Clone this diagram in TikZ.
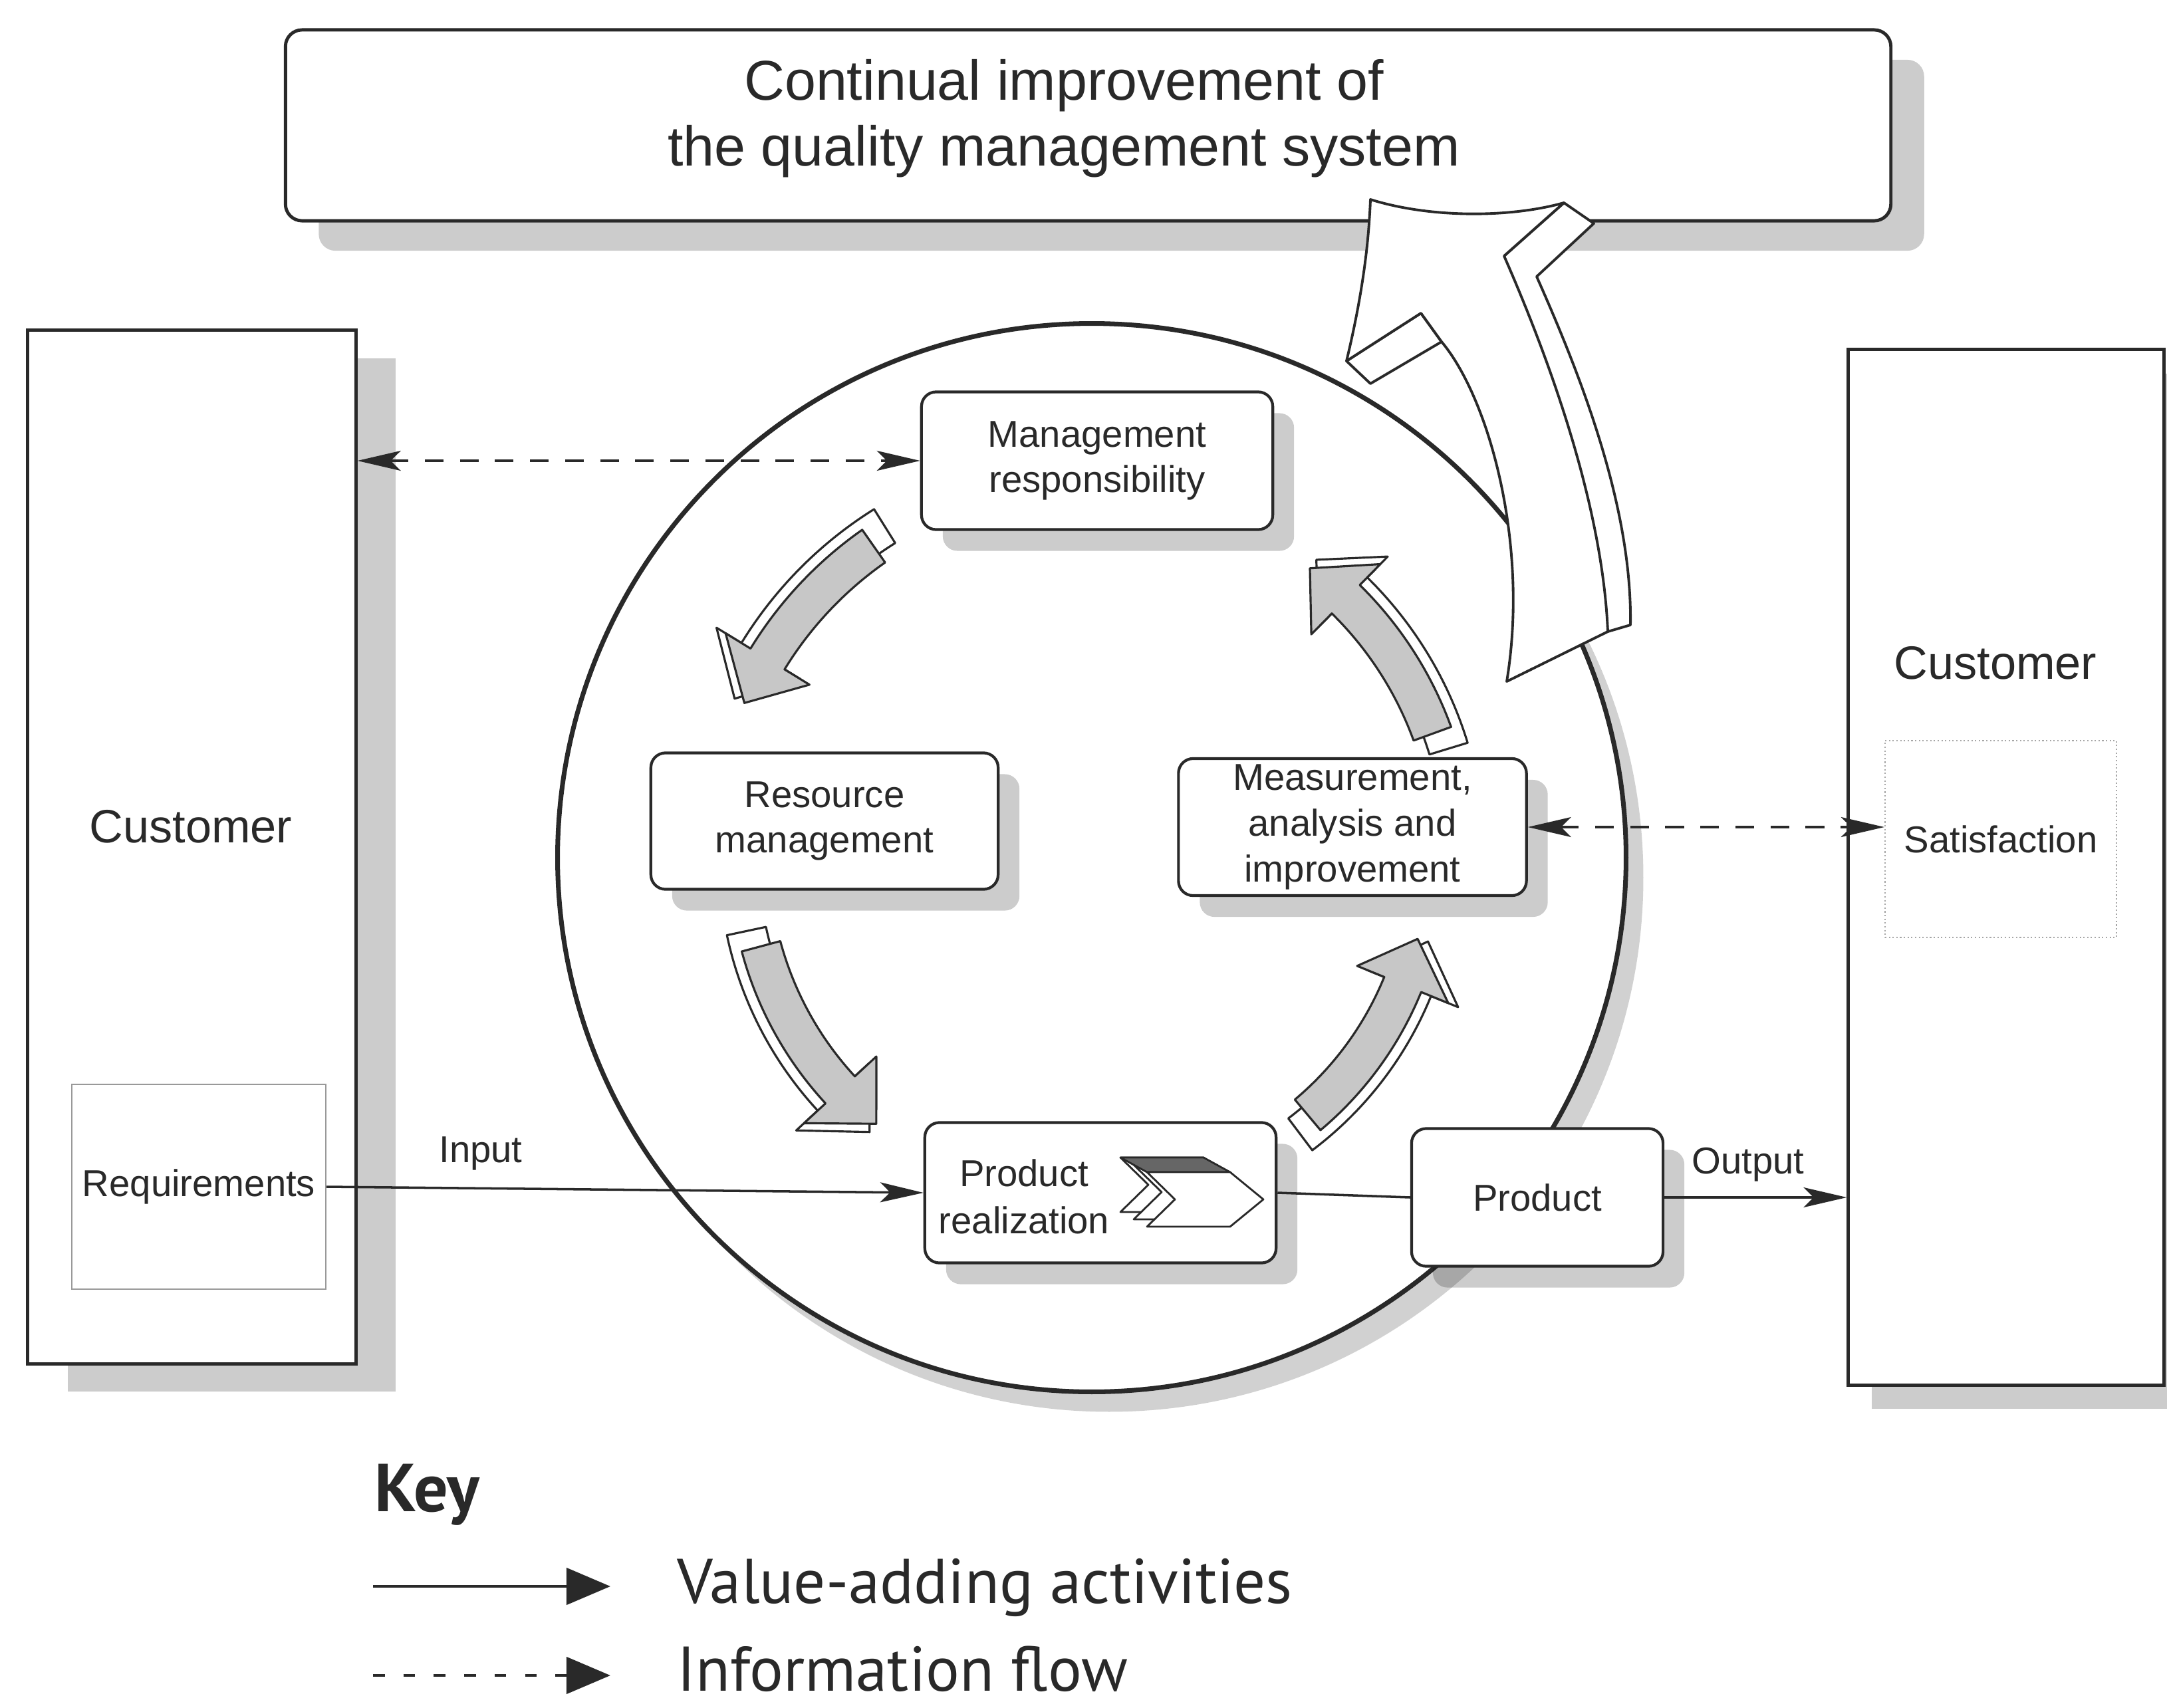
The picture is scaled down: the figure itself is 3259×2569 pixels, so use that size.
\documentclass[tikz,border=0pt]{standalone}
\usepackage{fontspec}
\setmainfont{Liberation Sans}
\newfontfamily\keyfont{PT Sans}
\usetikzlibrary{arrows.meta,shadows}

\definecolor{ink}{gray}{0.16}
\definecolor{facegray}{gray}{0.78}

% curved block arrow around the current origin:
% #1 radius, #2 half band width, #3 half head width,
% #4 tail angle, #5 head base angle, #6 tip angle, #7 style
\newcommand{\ringarrow}[7]{%
  \path[#7] ({#4}:{#1+#2}) arc[start angle={#4}, end angle={#5}, radius={#1+#2}]
    -- ({#5}:{#1+#3}) -- ({#6}:{#1}) -- ({#5}:{#1-#3}) -- ({#5}:{#1-#2})
    arc[start angle={#5}, end angle={#4}, radius={#1-#2}] -- cycle;}
% the same arrow with its raised side: the side first, then the face
\newcommand{\cyclearrow}[4]{%
  \ringarrow{#1+16}{30}{74}{#2+3}{#3}{#4}{sideface}
  \ringarrow{#1}{30}{74}{#2}{#3}{#4}{topface}}
% one chevron of the realization icon
\newcommand{\chevronpath}{(1725,1763) -- (1850,1763) -- (1900,1804) -- (1850,1845) -- (1725,1845) -- (1767,1804) -- cycle}

\tikzset{
  boxshadow/.style={drop shadow={shadow xshift=3.2mm, shadow yshift=-3.2mm, fill=black, opacity=0.2}},
  pbox/.style={draw=ink, line width=1.2pt, fill=white, rounded corners=2.2mm, align=center,
    inner sep=0pt, text=ink, font=\fontsize{16}{19.5}\selectfont, boxshadow},
  custbox/.style={draw=ink, line width=1.4pt, fill=white, inner sep=0pt},
  subbox/.style={draw=black!40, line width=0.6pt, fill=white, inner sep=0pt, text=ink,
    font=\fontsize{16}{19}\selectfont},
  plain/.style={inner sep=0pt, text=ink},
  flow/.style={draw=ink, line width=1.0pt},
  info/.style={draw=ink, line width=1.0pt, dash pattern=on 8pt off 7pt},
  tipshape/.tip={Stealth[length=6.5mm, width=3mm, inset=1.5mm]},
  sideface/.style={draw=ink, line width=0.9pt, fill=white, line join=round},
  topface/.style={draw=ink, line width=0.9pt, fill=facegray, line join=round},
  bigface/.style={draw=ink, line width=1.1pt, fill=white, line join=round},
  chevron/.style={draw=ink, line width=0.8pt, line join=round, fill=white},
  keytext/.style={inner sep=0pt, anchor=west, text=ink, font=\keyfont\fontsize{27}{30}\selectfont},
}

\begin{document}
\begin{tikzpicture}[x=0.01cm, y=-0.01cm]
\useasboundingbox (0,0) rectangle (3259,2569);

% customers on both sides
\node[custbox, minimum width=4.93cm, minimum height=15.54cm,
  drop shadow={shadow xshift=6mm, shadow yshift=-4.2mm, fill=black, opacity=0.2}] (custL) at (288.5,1274) {};
\node[custbox, minimum width=4.74cm, minimum height=15.57cm,
  drop shadow={shadow xshift=3.5mm, shadow yshift=-3.6mm, fill=black, opacity=0.2}] (custR) at (3017,1304.5) {};
\node[plain, font=\fontsize{20}{24}\selectfont] (custLtext) at (287,1243) {Customer};
\node[plain, font=\fontsize{20}{24}\selectfont] (custRtext) at (3001,997) {Customer};
\node[subbox, minimum width=3.82cm, minimum height=3.08cm] (req) at (299,1785) {Requirements};
\node[subbox, draw=black!35, densely dotted, minimum width=3.48cm, minimum height=2.96cm] (sat) at (3009,1262) {Satisfaction};

% the process circle
\node[circle, draw=ink, line width=2pt, fill=white, minimum size=16.06cm, inner sep=0pt,
  drop shadow={shadow xshift=2.6mm, shadow yshift=-3mm, fill=black, opacity=0.18}] (ring) at (1642,1290) {};

% top box
\node[draw=ink, line width=1.4pt, fill=white, rounded corners=2.5mm,
  minimum width=24.13cm, minimum height=2.87cm, inner sep=0pt,
  drop shadow={shadow xshift=5mm, shadow yshift=-4.5mm, fill=black, opacity=0.2}] (top) at (1636.5,188.5) {};
\node[plain, align=center, font=\fontsize{24}{28}\selectfont] (toptext) at (1600,178)
  {Continual improvement of\\the quality management system};

% process boxes
\node[pbox, minimum width=5.28cm, minimum height=2.07cm] (mgmt) at (1650,693) {Management\\responsibility};
\node[pbox, minimum width=5.22cm, minimum height=2.05cm] (res) at (1240,1235) {Resource\\management};
\node[pbox, minimum width=5.23cm, minimum height=2.06cm] (meas) at (2034,1244) {Measurement,\\analysis and\\improvement};
\node[pbox, minimum width=5.28cm, minimum height=2.11cm] (pr) at (1655,1794) {};
\node[plain, align=center, font=\fontsize{16}{20}\selectfont] (prtext) at (1540,1800) {Product\\realization};
\node[pbox, minimum width=3.78cm, minimum height=2.07cm] (prod) at (2312,1801) {Product};

% stacked chevrons inside the realization box, with their dark upper face
\begin{scope}[shift={(-40,-22)}]
  \path[chevron] \chevronpath;
\end{scope}
\begin{scope}[shift={(-20,-11)}]
  \path[chevron] \chevronpath;
\end{scope}
\path[draw=ink, line width=0.8pt, fill=black!60, line join=round]
  (1685,1741) -- (1810,1741) -- (1850,1763) -- (1725,1763) -- cycle;
\path[chevron] \chevronpath;

% the four cycle arrows
\begin{scope}[shift={(ring.center)}]
  \cyclearrow{572}{235}{211.5}{204}
  \cyclearrow{515}{165}{137.3}{129}
  \cyclearrow{505}{50}{22.2}{14}
  \cyclearrow{545}{340}{314.5}{307}
\end{scope}

% value-adding flow
\draw[flow, -tipshape] (req.east) -- (pr.west);
\node[plain, font=\fontsize{16}{19}\selectfont] (inlabel) at (723,1735) {Input};
\draw[flow] (pr.east) -- (prod.west);
\draw[flow, -tipshape] (prod.east) -- (prod.east -| custR.west);
\node[plain, font=\fontsize{16}{19}\selectfont] (outlabel) at (2629,1752) {Output};

% information flow
\draw[info, tipshape-tipshape] (custL.east |- mgmt.west) -- (mgmt.west);
\draw[info, tipshape-tipshape] (meas.east) -- (meas.east -| sat.west);

% improvement arrow rising out of the circle into the top box
\path[bigface] (2352,305) -- (2397,336) -- (2311,416)
  .. controls (2375,560) and (2455,760) .. (2452,940) -- (2418,950) -- (2262,385) -- cycle;
\path[bigface] (2025,543) -- (2061,577) -- (2168,514) -- (2137,471) -- cycle;
\path[bigface] (2061,300) .. controls (2150,328) and (2270,328) .. (2352,305) -- (2262,385)
  .. controls (2330,540) and (2410,760) .. (2418,950) -- (2266,1025)
  .. controls (2300,820) and (2240,600) .. (2168,514) -- (2137,471) -- (2025,543)
  .. controls (2045,460) and (2058,380) .. cycle;

% key
\node[plain, anchor=west, font=\keyfont\bfseries\fontsize{29}{32}\selectfont] (keyhead) at (563,2248) {Key};
\coordinate (k1a) at (561,2386);
\coordinate (k1b) at (918,2386);
\coordinate (k2a) at (561,2520);
\coordinate (k2b) at (918,2520);
\draw[flow, line width=1.3pt, -{Triangle[length=6.6mm, width=5.5mm]}] (k1a) -- (k1b);
\draw[flow, line width=1.3pt, dash pattern=on 5pt off 8pt, -{Triangle[length=6.6mm, width=5.5mm]}] (k2a) -- (k2b);
\node[keytext] (kvalue) at (1018,2388) {Value-adding activities};
\node[keytext] (kinfo) at (1018,2510) {Information flow};
\end{tikzpicture}
\end{document}
